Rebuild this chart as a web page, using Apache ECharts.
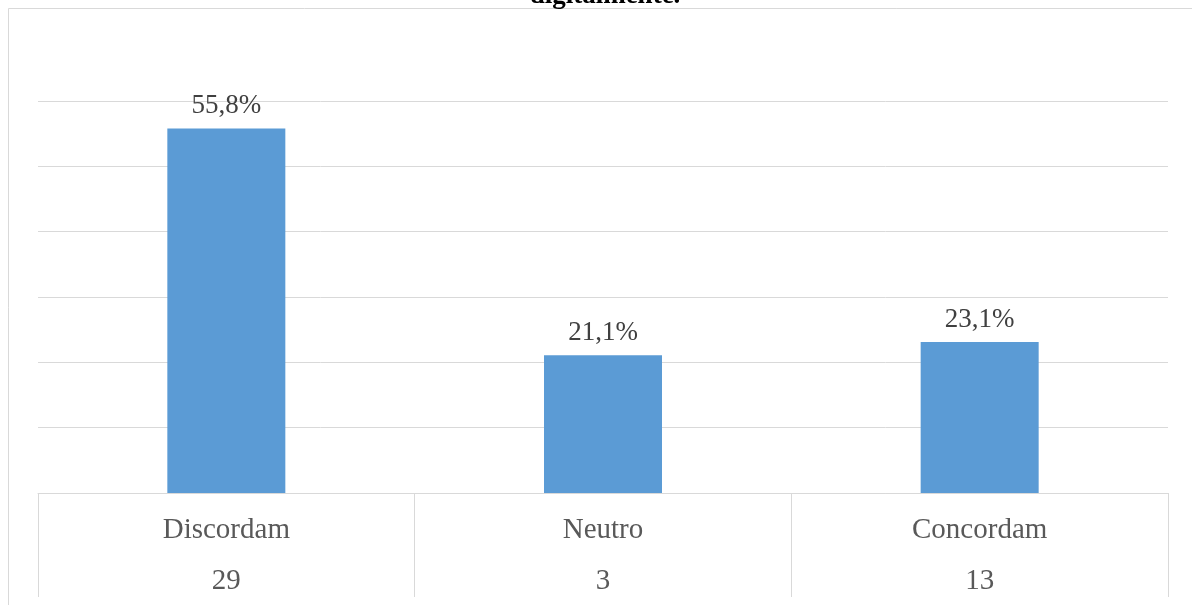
<!DOCTYPE html>
<html>
<head>
<meta charset="utf-8">
<script src="https://cdn.jsdelivr.net/npm/echarts@6/dist/echarts.min.js"></script>
<style>
html,body{margin:0;padding:0;background:#fff;}
#chart{width:1192px;height:605px;}
</style>
</head>
<body>
<div id="chart"></div>
<script>
const titleText = 'digitalmente.';
const categories = ['Discordam', 'Neutro', 'Concordam'];
const percents = [55.8, 21.1, 23.1];
const counts = [29, 3, 13];
const yTicks = [0, 10, 20, 30, 40, 50, 60];

const FONT = '"Liberation Serif", "Times New Roman", serif';
const chart = echarts.init(document.getElementById('chart'));
chart.setOption({
  backgroundColor: '#ffffff',
  animation: false,
  graphic: [
    {
      type: 'rect',
      shape: { x: 8.5, y: 8.5, width: 1300, height: 700 },
      style: { fill: 'none', stroke: '#d9d9d9', lineWidth: 1 },
      silent: true
    },
    {
      type: 'text',
      x: 605, y: 10,
      style: {
        text: titleText,
        font: 'bold 27px ' + FONT,
        fill: '#000000',
        align: 'center',
        verticalAlign: 'bottom'
      },
      silent: true
    }
  ],
  grid: { left: 38, right: 24, top: 101, bottom: 112, containLabel: false },
  xAxis: {
    type: 'category',
    data: categories,
    boundaryGap: true,
    axisLine: { show: true, lineStyle: { color: '#d9d9d9', width: 1 } },
    axisTick: { show: true, length: 104, inside: false, lineStyle: { color: '#d9d9d9', width: 1 } },
    axisLabel: {
      margin: 12,
      interval: 0,
      formatter: function (v, i) { return '{c|' + v + '}\n{n|' + counts[i] + '}'; },
      rich: {
        c: { fontFamily: FONT, fontSize: 29, color: '#595959', lineHeight: 51 },
        n: { fontFamily: FONT, fontSize: 29, color: '#595959', lineHeight: 51 }
      }
    },
    splitLine: { show: false }
  },
  yAxis: {
    type: 'value',
    min: yTicks[0],
    max: yTicks[yTicks.length - 1],
    interval: 10,
    axisLine: { show: false },
    axisTick: { show: false },
    axisLabel: { show: false },
    splitLine: { show: true, lineStyle: { color: '#d9d9d9', width: 1 } }
  },
  series: [{
    type: 'bar',
    data: percents,
    barWidth: 118,
    itemStyle: { color: '#5b9bd5' },
    label: {
      show: true,
      position: 'top',
      distance: 9,
      formatter: function (p) { return p.value.toFixed(1).replace('.', ',') + '%'; },
      fontFamily: FONT,
      fontSize: 27,
      color: '#404040'
    }
  }]
});
</script>
</body>
</html>
